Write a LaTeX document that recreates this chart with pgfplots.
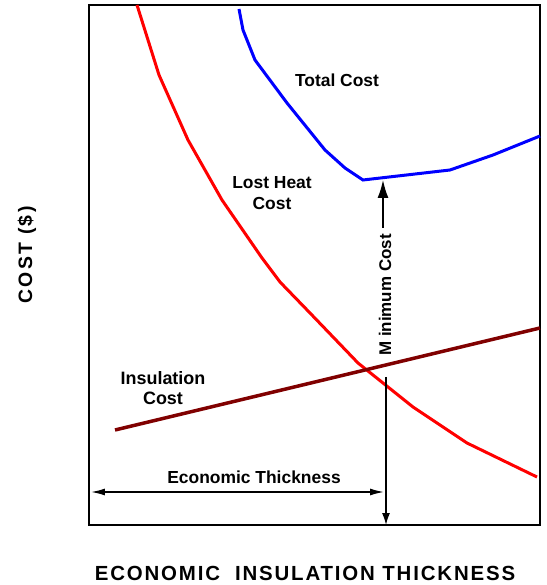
\documentclass[border=0pt]{standalone}
\usepackage{fontspec}
\setmainfont{Liberation Sans}
\usepackage{pgfplots}
\pgfplotsset{compat=1.18}
\usetikzlibrary{arrows.meta}
\definecolor{insul}{HTML}{800000}

\begin{document}
\begin{tikzpicture}
\begin{axis}[
    x=1bp, y=1bp,
    xmin=89, xmax=540, ymin=60, ymax=580,
    axis line style={line width=2bp},
    xtick=\empty, ytick=\empty,
    clip=false,
    font=\bfseries\fontsize{17.5}{21}\selectfont,
]
% lost heat cost
\addplot[red, line width=3bp] coordinates {
    (137,580) (159,510) (188,445) (222,385) (262,327) (280,303)
    (310,272) (358,222) (413,178) (467,142) (537,108)
};
% total cost
\addplot[blue, line width=3bp] coordinates {
    (239,576) (243,555) (255,525) (287,482) (325,435) (345,417)
    (363,405) (450,415) (493,430) (540,449)
};
% insulation cost
\addplot[insul, line width=3.5bp] coordinates {
    (115,155) (540,257)
};

% arrows
\draw[line width=1.5bp, -{Latex[length=18bp,width=11bp]}] (axis cs:383,357) -- (axis cs:383,405);
\draw[line width=1.5bp, -{Latex[length=12bp,width=8bp]}] (axis cs:386,208) -- (axis cs:386,60);
\draw[line width=1.5bp, {Latex[length=14bp,width=7bp]}-{Latex[length=14bp,width=7bp]}] (axis cs:91,93) -- (axis cs:384,93);

% labels
\node at (axis cs:337,505) {Total Cost};
\node[align=center] at (axis cs:272,392) {Lost Heat\\Cost};
\node[align=center, font=\bfseries\fontsize{18}{20}\selectfont] at (axis cs:163,197) {Insulation\\Cost};
\node at (axis cs:254,108) {Economic Thickness};
\node[rotate=90, font=\bfseries\fontsize{17}{20}\selectfont] at (axis cs:385,290) {M inimum Cost};
\node[font=\bfseries\fontsize{20.5}{24}\selectfont\addfontfeatures{LetterSpace=9}] at (axis cs:305,12) {ECONOMIC\ \ INSULATION THICKNESS};
\node[rotate=90, font=\bfseries\fontsize{19.5}{24}\selectfont\addfontfeatures{LetterSpace=12}] at (axis cs:27,330) {COST (\$)};

\path (axis cs:0,0) rectangle (axis cs:547,585);
\end{axis}
\end{tikzpicture}
\end{document}
